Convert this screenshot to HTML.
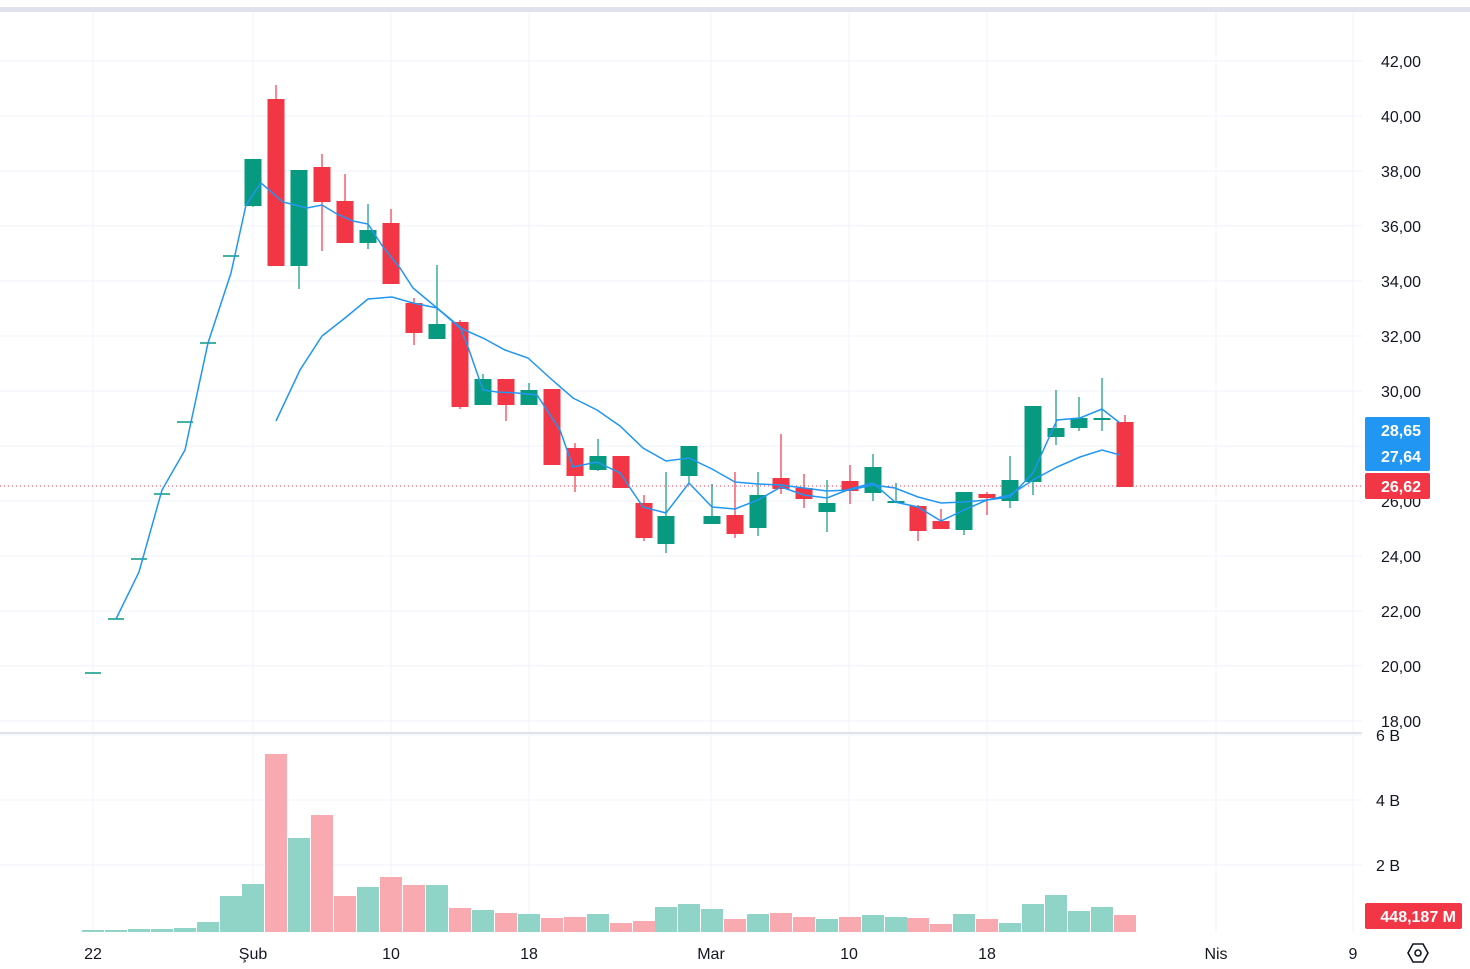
<!DOCTYPE html>
<html><head><meta charset="utf-8"><style>
html,body{margin:0;padding:0;background:#fff;}
svg{display:block;font-family:"Liberation Sans",sans-serif;}
</style></head><body>
<svg id="s" width="1470" height="969" xmlns="http://www.w3.org/2000/svg">
<rect x="0" y="7" width="1470" height="5" fill="#e0e3eb"/>
<g id="grid" stroke="#f0f3fa" stroke-width="1"></g>
<rect x="0" y="732" width="1362" height="2" fill="#e0e3eb"/>
<line x1="0" y1="486" x2="1362" y2="486" stroke="#f23645" stroke-width="1" stroke-dasharray="1,3"/>
<g id="vol"></g>
<g id="cand"></g>
<polyline id="slow" fill="none" stroke="#2196f3" stroke-width="1.5"/>
<polyline id="fast" fill="none" stroke="#2196f3" stroke-width="1.5"/>
<g id="lab" font-size="16" fill="#131722"></g>
<rect x="1365" y="417" width="65" height="54" rx="2" fill="#2196f3"/>
<text x="1421" y="436" font-size="16" fill="#fff" text-anchor="end" font-weight="bold">28,65</text>
<text x="1421" y="462" font-size="16" fill="#fff" text-anchor="end" font-weight="bold">27,64</text>
<rect x="1365" y="473" width="65" height="26" rx="2" fill="#f23645"/>
<text x="1421" y="492" font-size="16" fill="#fff" text-anchor="end" font-weight="bold">26,62</text>
<rect x="1365" y="903" width="97" height="26" rx="2" fill="#f23645"/>
<text x="1456" y="922" font-size="16" fill="#fff" text-anchor="end" font-weight="bold">448,187 M</text>
<g font-size="16" fill="#131722" text-anchor="middle">
<text x="93" y="959">22</text><text x="253" y="959">Şub</text><text x="391" y="959">10</text>
<text x="529" y="959">18</text><text x="711" y="959">Mar</text><text x="849" y="959">10</text>
<text x="987" y="959">18</text><text x="1216" y="959">Nis</text><text x="1353" y="959">9</text>
</g>
<g transform="translate(1418,953)" fill="none" stroke="#131722" stroke-width="1.6">
<polygon points="-10,0 -5,-9 5,-9 10,0 5,9 -5,9"/><circle r="3"/>
</g>
</svg>
<script>
var NS="http://www.w3.org/2000/svg";
function el(p,t,a){var e=document.createElementNS(NS,t);for(var k in a)e.setAttribute(k,a[k]);document.getElementById(p).appendChild(e);return e;}
var xs=[93,253,391,529,711,849,987,1216,1353];
xs.forEach(function(x){el("grid","line",{x1:x,y1:12,x2:x,y2:932});});
var pl=["42,00","40,00","38,00","36,00","34,00","32,00","30,00","28,00","26,00","24,00","22,00","20,00","18,00"];
for(var i=0;i<13;i++){var y=61+i*55;el("grid","line",{x1:0,y1:y,x2:1362,y2:y});if(i!=7){var t=el("lab","text",{x:1421,y:y+6,"text-anchor":"end"});t.textContent=pl[i];}}
[[735,"6 B"],[800,"4 B"],[865,"2 B"]].forEach(function(a){el("grid","line",{x1:0,y1:a[0],x2:1362,y2:a[0]});var t=el("lab","text",{x:1400,y:a[0]+6,"text-anchor":"end"});t.textContent=a[1];});
var G="#089981",R="#f23645";
// ticks
[[93,673],[116,619],[139,559],[162,494],[185,422],[208,343],[231,256]].forEach(function(a){el("cand","line",{x1:a[0]-8,y1:a[1],x2:a[0]+8,y2:a[1],stroke:G,"stroke-width":1.5});});
// x, bodyTop, bodyBot, wickTop, wickBot, color
var c=[[253,159,206,159,207,G],[276,99,266,85,266,R],[299,170,266,170,289,G],[322,167,202,154,251,R],[345,201,243,174,243,R],[368,230,243,204,249,G],[391,223,284,209,284,R],[414,303,333,298,345,R],[437,324,339,265,339,G],[460,322,407,320,409,R],[483,379,405,374,405,G],[506,379,405,379,421,R],[529,390,405,383,405,G],[552,389,465,389,465,R],[575,448,476,443,492,R],[598,456,470,439,471,G],[621,456,488,456,488,R],[644,503,538,495,541,R],[666,516,544,472,553,G],[689,446,476,446,483,G],[712,516,524,484,524,G],[735,515,534,472,538,R],[758,495,528,472,536,G],[781,478,489,434,494,R],[804,488,499,474,508,R],[827,503,512,480,532,G],[850,481,491,465,504,R],[873,467,493,454,501,G],[896,501,503,483,503,G],[918,506,531,505,541,R],[941,521,529,509,529,R],[964,492,530,492,535,G],[987,494,498,492,515,R],[1010,480,501,456,508,G],[1033,406,482,406,495,G],[1056,428,437,390,445,G],[1079,418,428,397,431,G],[1102,418,420,378,431,G],[1125,422,487,415,487,R]];
c.forEach(function(a){el("cand","line",{x1:a[0],y1:a[3],x2:a[0],y2:a[4],stroke:a[5],"stroke-width":1.2});el("cand","rect",{x:a[0]-8.5,y:a[1],width:17,height:Math.max(a[2]-a[1],1.5),fill:a[5]});});
var GV="#8fd4c7",RV="#f9aab0";
var v=[[93,930,GV],[116,930,GV],[139,929,GV],[162,929,GV],[185,928,GV],[208,922,GV],[231,896,GV],[253,884,GV],[276,754,RV],[299,838,GV],[322,815,RV],[345,896,RV],[368,887,GV],[391,877,RV],[414,885,RV],[437,885,GV],[460,908,RV],[483,910,GV],[506,913,RV],[529,914,GV],[552,918,RV],[575,917,RV],[598,914,GV],[621,923,RV],[644,921,RV],[666,907,GV],[689,904,GV],[712,909,GV],[735,919,RV],[758,914,GV],[781,913,RV],[804,917,RV],[827,919,GV],[850,917,RV],[873,915,GV],[896,917,GV],[918,918,RV],[941,924,RV],[964,914,GV],[987,919,RV],[1010,923,GV],[1033,904,GV],[1056,895,GV],[1079,911,GV],[1102,907,GV],[1125,915,RV]];
v.forEach(function(a){el("vol","rect",{x:a[0]-11,y:a[1],width:22,height:932-a[1],fill:a[2]});});
document.getElementById("fast").setAttribute("points","116,619 139,572 162,490 185,450 208,343 231,273 246,205 261,183 283,202 307,208 322,205 337,214 353,221 368,224 383,247 400,268 413,288 437,308 460,327 468,347 483,390 497,392 517,393 537,395 560,430 573,467 597,462 620,473 643,507 666,513 689,483 712,507 735,509 758,500 781,487 804,495 827,498 850,489 873,483 895,502 918,507 941,521 964,510 987,500 1010,497 1033,473 1057,420 1080,418 1102,409 1120,423");
document.getElementById("slow").setAttribute("points","276,421 300,370 322,336 345,318 368,299 392,297 413,303 437,308 460,328 483,338 505,350 528,358 550,378 573,398 597,410 620,426 643,448 666,461 689,458 712,469 735,482 758,484 781,485 804,488 827,491 850,490 873,485 895,488 918,497 941,503 964,502 987,500 1010,495 1033,480 1057,467 1080,457 1102,450 1120,455");
</script>
</body></html>
